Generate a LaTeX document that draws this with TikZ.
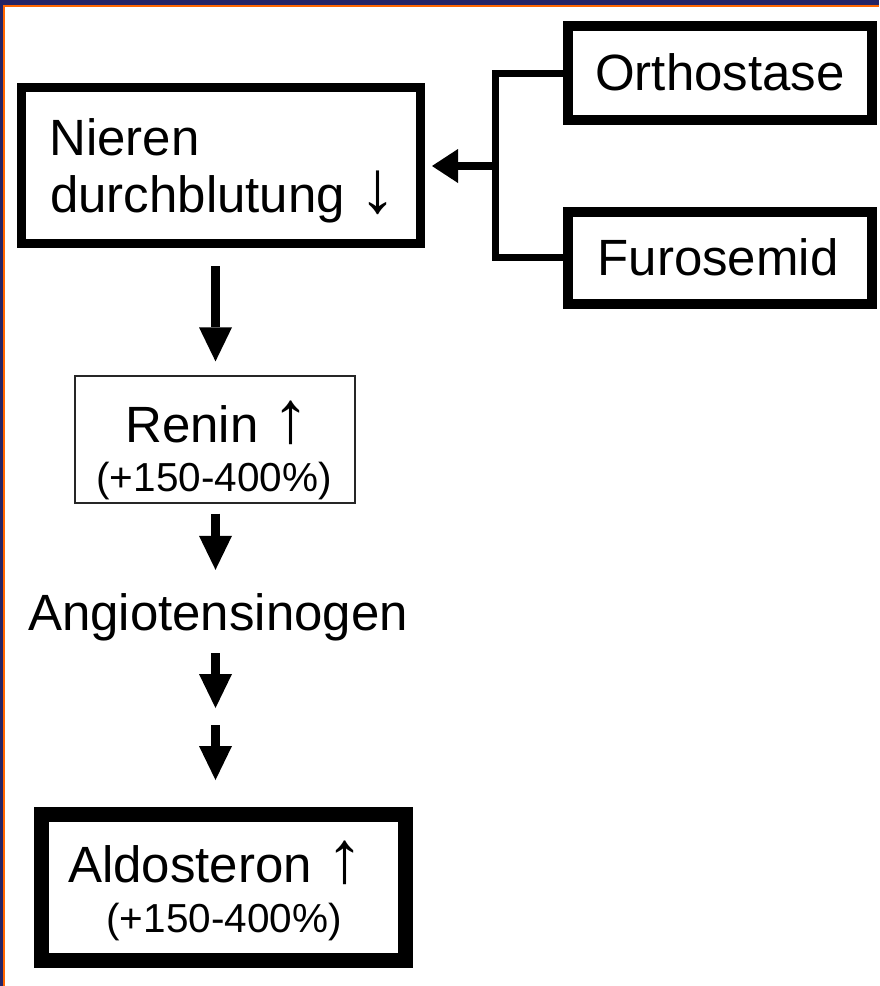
\documentclass[tikz,border=0pt]{standalone}
\usepackage{fontspec}
\setmainfont{Liberation Sans}
\usetikzlibrary{arrows.meta}
\definecolor{framenavy}{RGB}{36,36,102}
\definecolor{frameorange}{RGB}{255,102,0}
% larger arrow glyphs next to the labels
\newcommand\tallarrow[1]{{\fontsize{74}{57}\selectfont #1}}

\begin{document}
\begin{tikzpicture}[x=1pt,y=-1pt,
  box/.style={draw=black,line width=#1,inner sep=0pt,rectangle},
  bigtext/.style={font=\fontsize{51}{57}\selectfont,inner sep=0pt},
  smalltext/.style={font=\fontsize{40.5}{46}\selectfont,inner sep=0pt},
  varrow/.style={line width=9pt,-{Triangle[length=34pt,width=33pt,line width=0pt]}},
  harrow/.style={line width=8pt,-{Triangle[length=26pt,width=34pt,line width=0pt]}},
  bracketline/.style={line width=7pt,line join=miter}]

% page and frame
\useasboundingbox (0,0) rectangle (879,986);
\fill[white] (0,0) rectangle (879,986);
\fill[framenavy] (0,0) rectangle (879,5);
\fill[framenavy] (0,0) rectangle (3,986);
\fill[frameorange] (3,5) rectangle (879,7);
\fill[frameorange] (3,5) rectangle (5,986);

% boxes
\node[box=9pt,minimum width=399pt,minimum height=156pt] (nieren) at (221,165.5) {};
\node[box=10pt,minimum width=304pt,minimum height=94pt] (orth) at (720,73) {};
\node[box=10pt,minimum width=304pt,minimum height=92pt] (furo) at (720,257.5) {};
\node[box=1.3pt,draw=black!85,minimum width=280pt,minimum height=127pt] (renin) at (215,439.5) {};
\node[box=15pt,minimum width=364pt,minimum height=145.5pt] (aldo) at (223.5,887.25) {};

% texts
\node[bigtext,anchor=base west] (nierentxt) at (49,155) {Nieren};
\node[bigtext,anchor=base west] (durchtxt) at (50,212) {durchblutung \tallarrow{↓}};
\node[bigtext,anchor=base] (orthtxt) at (720,90) {Orthostase};
\node[bigtext,anchor=base] (furotxt) at (718,275) {Furosemid};
\node[bigtext,anchor=base west] (renintxt) at (125,442) {Renin \tallarrow{↑}};
\node[smalltext,anchor=base] (reninpct) at (214,491) {(+150-400\%)};
\node[bigtext,anchor=base,text height=37pt,text depth=11pt] (angio) at (218,630) {Angiotensinogen};
\node[bigtext,anchor=base west] (aldotxt) at (68,882) {Aldosteron \tallarrow{↑}};
\node[smalltext,anchor=base] (aldopct) at (224,932) {(+150-400\%)};

% helper coordinates
\coordinate (col) at (215.5,0);
\coordinate (jx) at (495,166);
\coordinate (mid) at (215.5,716.5);

% bracket from the two causes into the kidney box
\draw[bracketline] (orth.west) -- (orth.west -| jx) -- (furo.west -| jx) -- (furo.west);
\draw[harrow,shorten >=7pt] (jx) -- (nieren.east |- jx);

% vertical cascade
\draw[varrow,shorten <=18pt,shorten >=14pt] (nieren.south -| col) -- (renin.north -| col);
\draw[varrow,shorten <=10pt,shorten >=23pt] (renin.south -| col) -- (angio.north -| col);
\draw[varrow,shorten <=12pt,shorten >=8.5pt] (angio.south -| col) -- (mid);
\draw[varrow,shorten <=8.5pt,shorten >=27pt] (mid) -- (aldo.north -| col);
\end{tikzpicture}
\end{document}
